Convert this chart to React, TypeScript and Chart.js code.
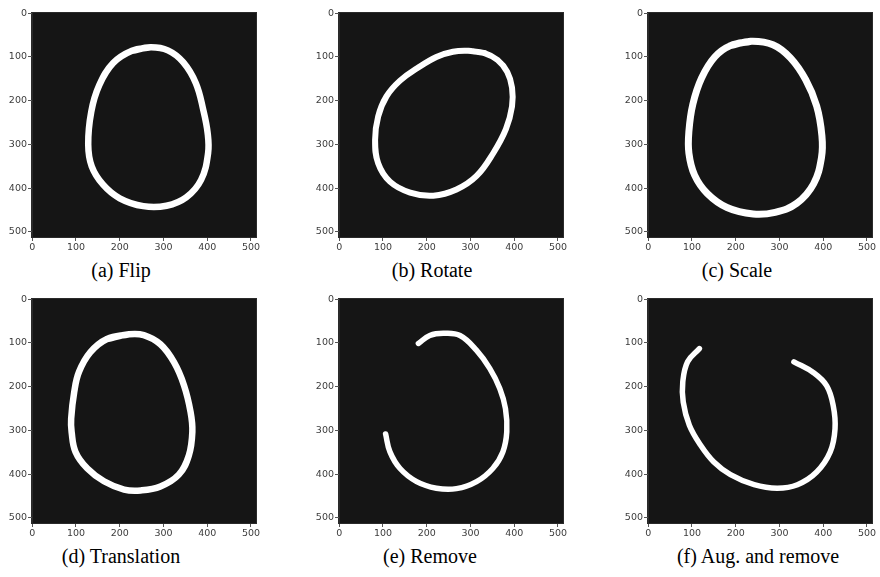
import React, { useEffect, useRef } from "react";
import { Chart, registerables } from "chart.js";

Chart.register(...registerables);

// ---- data (image pixel coordinates, x right, y down, 0..512) ----
const tickValues = [0, 100, 200, 300, 400, 500];

const flipRing: [number, number][] = [
  [270, 78], [228, 86], [185, 114], [153, 165], [135, 225], [128, 300],
  [136, 350], [162, 392], [200, 423], [254, 441], [307, 440], [352, 421],
  [386, 381], [402, 320], [401, 274], [391, 221], [374, 160], [345, 112], [310, 85],
];

const rotateRing: [number, number][] = [
  [295, 86], [332, 91], [362, 107], [384, 134], [395, 170], [395, 213], [381, 265],
  [352, 320], [314, 372], [268, 403], [215, 417], [162, 410], [116, 385],
  [89, 343], [82, 290], [89, 236], [108, 190], [139, 154], [178, 126],
  [222, 100], [260, 88],
];

const scaleRing: [number, number][] = [
  [235, 64], [188, 74], [152, 100], [122, 148], [102, 208], [93, 270],
  [93, 320], [106, 370], [135, 412], [180, 444], [240, 459], [290, 455],
  [340, 434], [378, 390], [396, 330], [397, 280], [385, 212], [360, 152],
  [325, 102], [285, 72],
];

const translationRing: [number, number][] = [
  [221, 80], [171, 91], [133, 121], [107, 166], [96, 212], [89, 273],
  [90, 303], [99, 349], [126, 387], [164, 416], [210, 435], [248, 437],
  [293, 428], [335, 401], [358, 357], [366, 303], [362, 258], [347, 197],
  [324, 144], [293, 103], [255, 82],
];

const removeArc: [number, number][] = [
  [181, 101], [207, 83], [238, 78], [276, 83], [314, 117], [344, 158],
  [367, 204], [380, 250], [383, 303], [374, 349], [351, 387], [314, 417],
  [268, 433], [222, 432], [177, 417], [139, 387], [116, 349], [106, 308],
];

const augRemoveArc: [number, number][] = [
  [117, 113], [90, 143], [79, 189], [80, 235], [94, 288], [120, 334],
  [150, 372], [188, 401], [242, 424], [295, 432], [341, 424], [385, 395],
  [416, 349], [427, 296], [423, 244], [408, 198], [378, 168], [333, 143],
];

const captions = [
  "(a) Flip",
  "(b) Rotate",
  "(c) Scale",
  "(d) Translation",
  "(e) Remove",
  "(f) Aug. and remove",
];

// ---- layout ----
const PLOT = 224;
const PAD_L = 32;
const PAD_T = 13;
const PAD_R = 8;
const XAX_H = 22;

type Panel = {
  caption: string;
  curve: [number, number][];
  closed: boolean;
  width: number;
  plotLeft: number;
  plotTop: number;
  capX: number;
  capY: number;
};

const panels: Panel[] = [
  { caption: captions[0], curve: flipRing, closed: true, width: 6.5, plotLeft: 32, plotTop: 13, capX: 121, capY: 270 },
  { caption: captions[1], curve: rotateRing, closed: true, width: 6, plotLeft: 339, plotTop: 13, capX: 432, capY: 270 },
  { caption: captions[2], curve: scaleRing, closed: true, width: 7, plotLeft: 648, plotTop: 13, capX: 737, capY: 270 },
  { caption: captions[3], curve: translationRing, closed: true, width: 6.5, plotLeft: 32, plotTop: 299, capX: 121, capY: 556 },
  { caption: captions[4], curve: removeArc, closed: false, width: 5.5, plotLeft: 339, plotTop: 299, capX: 430, capY: 556 },
  { caption: captions[5], curve: augRemoveArc, closed: false, width: 5.5, plotLeft: 648, plotTop: 299, capX: 758, capY: 556 },
];

const plotBg = {
  id: "plotBg",
  beforeDraw(chart: any) {
    const { ctx, chartArea: a } = chart;
    ctx.save();
    ctx.fillStyle = "#151515";
    ctx.fillRect(a.left, a.top, a.width, a.height);
    ctx.strokeStyle = "#2a2a2a";
    ctx.lineWidth = 1;
    ctx.strokeRect(a.left - 0.5, a.top - 0.5, a.width + 1, a.height + 1);
    ctx.restore();
  },
};

function axis(isY: boolean) {
  return {
    type: "linear" as const,
    min: -0.5,
    max: 511.5,
    reverse: isY,
    afterBuildTicks: (s: any) => {
      s.ticks = tickValues.map((v) => ({ value: v }));
    },
    afterFit: (s: any) => {
      if (isY) s.width = PAD_L;
      else s.height = XAX_H;
    },
    grid: {
      drawOnChartArea: false,
      drawTicks: true,
      tickLength: 4,
      tickWidth: 1,
      tickColor: "#555",
      color: "#555",
    },
    border: { display: true, color: "#2a2a2a" },
    ticks: {
      autoSkip: false,
      maxRotation: 0,
      padding: 1,
      color: "#3c3c3c",
      font: { family: "'DejaVu Sans', sans-serif", size: 9.5 },
    },
  };
}

function PanelChart({ p }: { p: Panel }) {
  const ref = useRef<HTMLCanvasElement>(null);
  useEffect(() => {
    if (!ref.current) return;
    const pts = p.closed ? [...p.curve, p.curve[0], p.curve[1]] : p.curve;
    const chart = new Chart(ref.current, {
      type: "scatter",
      data: {
        datasets: [
          {
            data: pts.map(([x, y]) => ({ x, y })),
            showLine: true,
            borderColor: "#ffffff",
            borderWidth: p.width,
            pointRadius: 0,
            tension: 0.4,
            borderCapStyle: "round",
            borderJoinStyle: "round",
          } as any,
        ],
      },
      options: {
        animation: false,
        responsive: false,
        devicePixelRatio: 1,
        layout: { padding: { left: 0, top: PAD_T, right: PAD_R, bottom: 0 } },
        plugins: { legend: { display: false }, tooltip: { enabled: false }, title: { display: false } },
        events: [],
        scales: { x: axis(false), y: axis(true) } as any,
      },
      plugins: [plotBg],
    });
    return () => chart.destroy();
  }, [p]);
  const w = PAD_L + PLOT + PAD_R;
  const h = PAD_T + PLOT + XAX_H;
  return (
    <>
      <canvas
        ref={ref}
        width={w}
        height={h}
        style={{ position: "absolute", left: p.plotLeft - PAD_L, top: p.plotTop - PAD_T, width: w, height: h }}
      />
      <div
        style={{
          position: "absolute",
          left: p.capX - 120,
          top: p.capY - 11,
          width: 240,
          textAlign: "center",
          fontFamily: "'Liberation Serif', 'Times New Roman', serif",
          fontSize: 20,
          lineHeight: "22px",
          color: "#000",
          whiteSpace: "nowrap",
        }}
      >
        {p.caption}
      </div>
    </>
  );
}

export default function App() {
  return (
    <div
      style={{
        position: "fixed",
        left: 0,
        top: 0,
        width: 880,
        height: 577,
        background: "#fff",
        overflow: "hidden",
      }}
    >
      {panels.map((p, i) => (
        <PanelChart key={i} p={p} />
      ))}
    </div>
  );
}
